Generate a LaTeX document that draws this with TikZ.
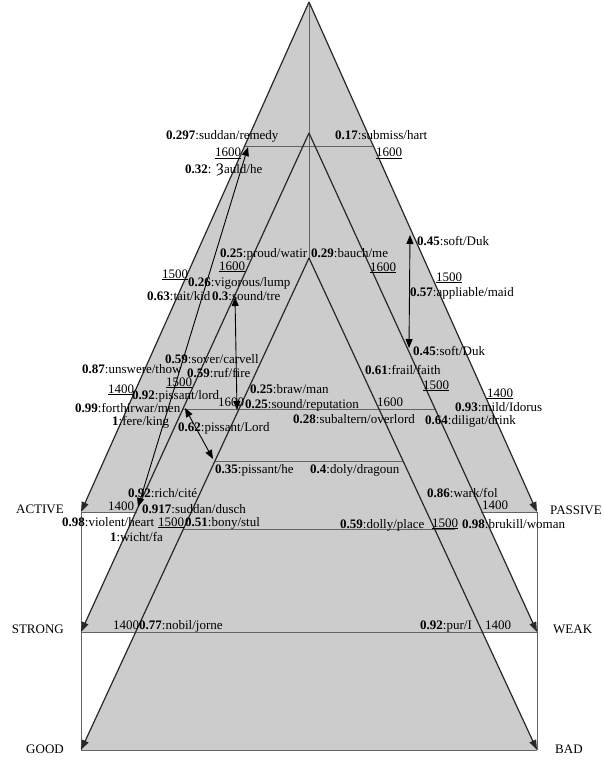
\documentclass[tikz,border=0pt]{standalone}
\usepackage{fontspec}
\setmainfont{Liberation Serif}
\newfontfamily\yoghfont{DejaVu Serif}
\usetikzlibrary{arrows.meta}
\definecolor{sem_fill}{RGB}{204,204,204}
\definecolor{sem_edge}{RGB}{40,40,40}
\definecolor{sem_line}{RGB}{100,100,100}

\begin{document}
\begin{tikzpicture}[x=1pt, y=-1pt, font=\fontsize{13}{15}\selectfont,
    word/.style={anchor=base west, inner sep=0pt},
    yr/.style={anchor=base west, inner sep=0pt},
    pole/.style={inner sep=0pt},
    edge/.style={draw=sem_edge, line width=1.2pt, -{Triangle[length=10pt,width=7pt]}},
    level/.style={draw=sem_line, line width=0.9pt},
    wordshift/.style={draw=black, line width=0.9pt,
                  {Triangle[length=9pt,width=7pt]}-{Triangle[length=9pt,width=7pt]}}]
  \useasboundingbox (0,0) rectangle (603,762);

  % corners of the three triangles
  \coordinate (a1) at (309,2);   \coordinate (act) at (81,512);  \coordinate (pas) at (537,512);
  \coordinate (a2) at (309,133); \coordinate (str) at (81,632);  \coordinate (wea) at (537,632);
  \coordinate (a3) at (309,258); \coordinate (goo) at (81,750);  \coordinate (bad) at (537,750);

  \fill[sem_fill] (a1) -- (act) -- (pas) -- cycle;
  \fill[sem_fill] (a2) -- (str) -- (wea) -- cycle;
  \fill[sem_fill] (a3) -- (goo) -- (bad) -- cycle;

  % time levels
  \draw[level] (245,146) -- (373,146);
  \draw[level] (183,409) -- (435,409);
  \draw[level] (215,461) -- (403,461);
  \draw[level] (184,529) -- (455,529);
  \draw[level] (act) -- (137,512);
  \draw[level] (481,512) -- (pas);
  \draw[level] (str) -- (wea);
  \draw[level] (goo) -- (bad);
  \draw[level] (act) -- (goo);
  \draw[level] (pas) -- (bad);
  \draw[level] (a1) -- (a3);

  % edges
  \draw[edge] (a1) -- (act);
  \draw[edge] (a1) -- (pas);
  \draw[edge] (a2) -- (str);
  \draw[edge] (a2) -- (wea);
  \draw[edge] (a3) -- (goo);
  \draw[edge] (a3) -- (bad);

  % word shifts
  \coordinate (dusch-end) at (138,507);  \coordinate (remedy-end) at (248,147);
  \coordinate (tre-end) at (235,297);    \coordinate (reput-end) at (237,410);
  \coordinate (duk-top) at (410,235);    \coordinate (duk-low) at (409,348);
  \coordinate (men-end) at (185,408);    \coordinate (he-end) at (213,459);
  \draw[wordshift] (dusch-end) -- (remedy-end);
  \draw[wordshift] (tre-end) -- (reput-end);
  \draw[wordshift] (duk-top) -- (duk-low);
  \draw[wordshift] (men-end) -- (he-end);

  % labels
  \node[word] (remedy) at (166,140) {\textbf{0.297}:suddan/remedy};
  \node[word] (hart) at (335,140) {\textbf{0.17}:submiss/hart};
  \node[yr] (y1) at (215,157) {\underline{1600}};
  \node[yr] (y2) at (376,157) {\underline{1600}};
  \node[word] (yauld) at (185,173) {\textbf{0.32}: {\yoghfont Ȝ}auld/he};
  \node[word] (watir) at (220,257) {\textbf{0.25}:proud/watir};
  \node[word] (bauch) at (311,257) {\textbf{0.29}:bauch/me};
  \node[yr] (y3) at (219,270) {\underline{1600}};
  \node[yr] (y4) at (370,271) {\underline{1600}};
  \node[word] (duk1) at (417,245) {\textbf{0.45}:soft/Duk};
  \node[yr] (y5) at (162,278) {\underline{1500}};
  \node[word] (lump) at (188,286) {\textbf{0.26}:vigorous/lump};
  \node[word] (kid) at (147,300) {\textbf{0.63}:tait/kid};
  \node[word] (tre) at (212,300) {\textbf{0.3}:sound/tre};
  \node[yr] (y6) at (436,281) {\underline{1500}};
  \node[word] (maid) at (410,296) {\textbf{0.57}:appliable/maid};
  \node[word] (duk2) at (413,355) {\textbf{0.45}:soft/Duk};
  \node[word] (carvell) at (165,363) {\textbf{0.59}:sover/carvell};
  \node[word] (thow) at (82,373) {\textbf{0.87}:unswere/thow};
  \node[word] (fire) at (187,377) {\textbf{0.59}:ruf/fire};
  \node[word] (faith) at (365,374) {\textbf{0.61}:frail/faith};
  \node[yr] (y7) at (166,386) {\underline{1500}};
  \node[yr] (y8) at (423,389) {\underline{1500}};
  \node[yr] (y9) at (108,393) {\underline{1400}};
  \node[yr] (y10) at (487,397) {\underline{1400}};
  \node[word] (man) at (250,393) {\textbf{0.25}:braw/man};
  \node[word] (lord) at (132,399) {\textbf{0.92}:pissant/lord};
  \node[word] (men) at (75,412) {\textbf{0.99}:forthirwar/men};
  \node[yr] (y11) at (218,406) {1600};
  \node[word] (reput) at (245,408) {\textbf{0.25}:sound/reputation};
  \node[yr] (y12) at (377,406) {1600};
  \node[word] (idorus) at (455,411) {\textbf{0.93}:mild/Idorus};
  \node[word] (king) at (112,425) {\textbf{1}:fere/king};
  \node[word] (overlord) at (293,423) {\textbf{0.28}:subaltern/overlord};
  \node[word] (drink) at (425,424) {\textbf{0.64}:diligat/drink};
  \node[word] (Lord) at (178,431) {\textbf{0.62}:pissant/Lord};
  \node[word] (he) at (215,473) {\textbf{0.35}:pissant/he};
  \node[word] (dragoun) at (310,473) {\textbf{0.4}:doly/dragoun};
  \node[word] (cite) at (128,497) {\textbf{0.92}:rich/cité};
  \node[word] (fol) at (427,497) {\textbf{0.86}:wark/fol};
  \node[yr] (y13) at (108,510) {1400};
  \node[word] (dusch) at (142,513) {\textbf{0.917}:suddan/dusch};
  \node[yr] (y14) at (482,509) {1400};
  \node[word] (heart) at (62,526) {\textbf{0.98}:violent/heart};
  \node[yr] (y15) at (158,526) {\underline{1500}};
  \node[word] (stul) at (185,526) {\textbf{0.51}:bony/stul};
  \node[word] (place) at (340,528) {\textbf{0.59}:dolly/place};
  \node[yr] (y16) at (432,527) {\underline{1500}};
  \node[word] (woman) at (462,528) {\textbf{0.98}:brukill/woman};
  \node[word] (fa) at (110,541) {\textbf{1}:wicht/fa};
  \node[yr] (y17) at (113,629) {1400};
  \node[word] (jorne) at (139,629) {\textbf{0.77}:nobil/jorne};
  \node[word] (pur) at (420,629) {\textbf{0.92}:pur/I};
  \node[yr] (y18) at (485,629) {1400};

  % poles
  \node[pole, anchor=base east] (active) at (64,513) {ACTIVE};
  \node[pole, anchor=base west] (passive) at (550,514) {PASSIVE};
  \node[pole, anchor=base east] (strong) at (64,633) {STRONG};
  \node[pole, anchor=base west] (weak) at (553,633) {WEAK};
  \node[pole, anchor=base east] (good) at (64,753) {GOOD};
  \node[pole, anchor=base west] (badl) at (555,753) {BAD};
\end{tikzpicture}
\end{document}
